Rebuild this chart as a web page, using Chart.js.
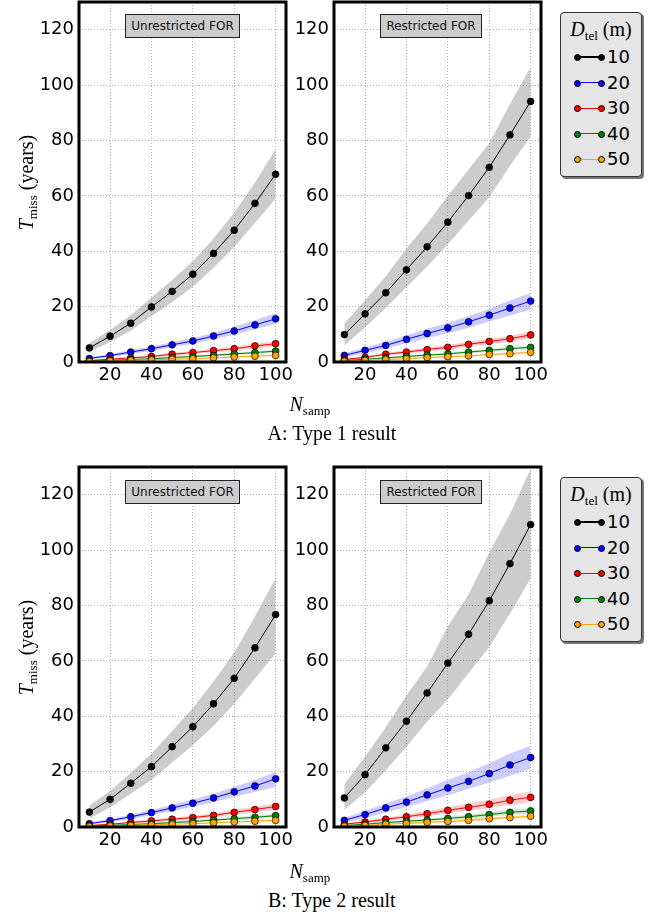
<!DOCTYPE html>
<html>
<head>
<meta charset="utf-8">
<script src="https://cdn.jsdelivr.net/npm/chart.js@4.4.0/dist/chart.umd.min.js"></script>
<style>
  body { margin: 0; background: #fff; width: 664px; height: 917px; position: relative; overflow: hidden; }
  canvas { position: absolute; }
  .tag { position: absolute; height: 24px; box-sizing: border-box; background: #cccccc; border: 1px solid #222;
         font: 12px "DejaVu Sans"; line-height: 22px; text-align: center; color: #111; }
  .leg { position: absolute; left: 560px; width: 82px; height: 165px; box-sizing: border-box; background: #e5e5e5;
         border: 1px solid #333; border-radius: 4px; box-shadow: 2px 2px 0 #777; }
  .legtitle { position: absolute; left: 0; width: 80px; top: 5px; text-align: center; font: 20px "Liberation Serif"; }
  .serif { position: absolute; font: 20px "Liberation Serif"; white-space: nowrap; }
  .sub { font-size: 13px; position: relative; top: 4px; }
</style>
</head>
<body>
<script>
// N_samp values, same for every panel
var nSamp = [10, 20, 30, 40, 50, 60, 70, 80, 90, 100];
var diameters = ["10", "20", "30", "40", "50"];
var xTicks = [20, 40, 60, 80, 100];
var yTicks = [0, 20, 40, 60, 80, 100, 120];
var colors = ["#000000", "#0000ff", "#ff0000", "#008000", "#ffa500"];
var bandColors = ["rgba(0,0,0,0.2)", "rgba(0,0,255,0.2)", "rgba(255,0,0,0.2)", "rgba(0,128,0,0.2)", "rgba(255,165,0,0.2)"];

// A: Type 1, unrestricted FOR (one row per D_tel)
var aUnresMid = [
  [5.1, 9.3, 14.0, 19.9, 25.5, 31.7, 39.2, 47.6, 57.3, 67.8],
  [1.3, 2.3, 3.6, 4.8, 6.2, 7.6, 9.4, 11.2, 13.4, 15.6],
  [0.5, 1.0, 1.5, 2.0, 2.8, 3.4, 4.1, 4.8, 5.8, 6.6],
  [0.3, 0.6, 0.9, 1.2, 1.6, 2.0, 2.4, 2.9, 3.4, 3.9],
  [0.2, 0.4, 0.6, 0.8, 1.0, 1.2, 1.5, 1.8, 2.1, 2.4]
];
var aUnresLo = [
  [3.6, 7.2, 11.3, 16.5, 21.6, 27.2, 34.0, 41.5, 50.2, 59.0],
  [0.9, 1.8, 2.9, 4.0, 5.3, 6.6, 8.2, 9.8, 11.8, 13.7],
  [0.3, 0.7, 1.2, 1.6, 2.3, 2.9, 3.5, 4.1, 5.0, 5.7],
  [0.2, 0.4, 0.7, 1.0, 1.3, 1.7, 2.0, 2.5, 2.9, 3.4],
  [0.1, 0.3, 0.5, 0.6, 0.8, 1.0, 1.3, 1.5, 1.8, 2.1]
];
var aUnresHi = [
  [6.8, 11.6, 16.9, 23.3, 29.6, 36.4, 44.6, 54.0, 64.8, 76.8],
  [1.7, 2.8, 4.3, 5.6, 7.1, 8.7, 10.6, 12.7, 15.1, 17.6],
  [0.7, 1.3, 1.8, 2.4, 3.3, 3.9, 4.7, 5.5, 6.6, 7.5],
  [0.4, 0.8, 1.1, 1.4, 1.9, 2.3, 2.8, 3.3, 3.9, 4.4],
  [0.3, 0.5, 0.7, 1.0, 1.2, 1.4, 1.7, 2.1, 2.4, 2.7]
];

// A: Type 1, restricted FOR
var aResMid = [
  [9.9, 17.4, 25.0, 33.3, 41.6, 50.5, 60.1, 70.3, 82.0, 94.1],
  [2.4, 4.2, 6.0, 8.2, 10.3, 12.3, 14.5, 16.9, 19.5, 22.0],
  [0.9, 1.7, 2.8, 3.6, 4.5, 5.3, 6.4, 7.4, 8.4, 9.8],
  [0.5, 1.0, 1.5, 2.0, 2.5, 2.9, 3.6, 4.2, 4.8, 5.3],
  [0.3, 0.6, 0.9, 1.2, 1.6, 1.9, 2.2, 2.7, 3.0, 3.5]
];
var aResLo = [
  [6.0, 12.5, 19.5, 27.0, 34.4, 42.5, 51.0, 59.5, 70.8, 81.4],
  [1.6, 3.2, 4.8, 6.8, 8.6, 10.4, 12.4, 14.6, 16.8, 18.9],
  [0.6, 1.3, 2.3, 3.0, 3.8, 4.5, 5.5, 6.4, 7.3, 8.6],
  [0.3, 0.8, 1.2, 1.7, 2.1, 2.5, 3.1, 3.7, 4.2, 4.7],
  [0.2, 0.4, 0.7, 1.0, 1.3, 1.6, 1.9, 2.3, 2.6, 3.1]
];
var aResHi = [
  [13.9, 22.3, 31.0, 41.0, 50.0, 60.0, 69.5, 79.0, 93.2, 106.5],
  [3.2, 5.2, 7.3, 9.6, 12.0, 14.2, 16.6, 19.2, 22.2, 24.9],
  [1.2, 2.1, 3.3, 4.2, 5.2, 6.1, 7.3, 8.4, 9.5, 11.0],
  [0.7, 1.2, 1.8, 2.3, 2.9, 3.3, 4.1, 4.7, 5.4, 5.9],
  [0.4, 0.8, 1.1, 1.4, 1.9, 2.2, 2.5, 3.1, 3.4, 3.9]
];

// B: Type 2, unrestricted FOR
var bUnresMid = [
  [5.4, 10.0, 15.8, 21.8, 29.0, 36.2, 44.5, 53.7, 64.7, 76.7],
  [1.2, 2.3, 3.7, 5.2, 6.9, 8.6, 10.5, 12.7, 14.8, 17.4],
  [0.5, 1.0, 1.6, 2.2, 2.8, 3.4, 4.2, 5.3, 6.3, 7.4],
  [0.3, 0.6, 0.9, 1.2, 1.6, 2.0, 2.5, 3.0, 3.5, 4.1],
  [0.2, 0.4, 0.6, 0.8, 1.0, 1.2, 1.5, 1.8, 2.1, 2.4]
];
var bUnresLo = [
  [3.0, 7.0, 12.0, 17.0, 23.3, 29.5, 36.5, 44.5, 53.5, 62.7],
  [0.8, 1.7, 2.9, 4.3, 5.8, 7.3, 9.0, 10.9, 12.6, 14.5],
  [0.3, 0.7, 1.2, 1.7, 2.2, 2.7, 3.4, 4.4, 5.3, 6.2],
  [0.2, 0.4, 0.7, 0.9, 1.3, 1.6, 2.1, 2.5, 2.9, 3.4],
  [0.1, 0.3, 0.4, 0.6, 0.8, 1.0, 1.2, 1.5, 1.7, 2.0]
];
var bUnresHi = [
  [7.8, 13.0, 19.5, 26.5, 34.7, 43.0, 52.5, 63.0, 76.0, 89.9],
  [1.6, 2.9, 4.5, 6.1, 8.0, 9.9, 12.0, 14.5, 17.0, 19.9],
  [0.7, 1.3, 2.0, 2.7, 3.4, 4.1, 5.0, 6.2, 7.3, 8.6],
  [0.4, 0.8, 1.1, 1.5, 1.9, 2.4, 2.9, 3.5, 4.1, 4.8],
  [0.3, 0.5, 0.8, 1.0, 1.2, 1.4, 1.8, 2.1, 2.5, 2.8]
];

// B: Type 2, restricted FOR
var bResMid = [
  [10.5, 18.9, 28.6, 38.2, 48.4, 59.2, 69.6, 81.7, 95.1, 109.2],
  [2.4, 4.5, 6.9, 9.0, 11.6, 14.1, 16.5, 19.3, 22.4, 25.1],
  [1.0, 1.8, 2.8, 3.7, 4.8, 6.0, 7.1, 8.2, 9.7, 10.7],
  [0.5, 1.0, 1.6, 2.1, 2.5, 3.1, 3.7, 4.5, 5.3, 5.8],
  [0.3, 0.6, 1.0, 1.3, 1.7, 2.0, 2.4, 3.0, 3.4, 3.9]
];
var bResLo = [
  [6.2, 12.5, 20.5, 29.0, 38.0, 46.0, 55.5, 65.0, 77.0, 89.7],
  [1.5, 3.2, 5.3, 7.2, 9.3, 11.5, 13.8, 16.0, 18.5, 20.9],
  [0.6, 1.3, 2.2, 3.0, 3.9, 4.9, 5.9, 6.8, 8.0, 8.9],
  [0.3, 0.7, 1.2, 1.6, 2.0, 2.5, 3.0, 3.7, 4.4, 4.8],
  [0.2, 0.4, 0.7, 1.0, 1.3, 1.6, 1.9, 2.5, 2.8, 3.2]
];
var bResHi = [
  [15.4, 25.5, 36.0, 47.5, 58.0, 72.5, 84.0, 99.0, 113.0, 129.4],
  [3.3, 5.8, 8.5, 11.0, 14.0, 17.0, 19.8, 23.0, 26.5, 29.3],
  [1.4, 2.3, 3.4, 4.5, 5.8, 7.2, 8.5, 9.8, 11.6, 12.8],
  [0.7, 1.3, 2.0, 2.6, 3.0, 3.7, 4.4, 5.3, 6.2, 6.9],
  [0.4, 0.8, 1.3, 1.6, 2.1, 2.4, 2.9, 3.5, 4.0, 4.6]
];

// thick black box round each plot area (drawn over the lines like mpl spines)
var framePlugin = {
  id: 'frame',
  afterDatasetsDraw: function (chart) {
    var a = chart.chartArea, ctx = chart.ctx;
    ctx.save();
    ctx.lineWidth = 3;
    ctx.strokeStyle = '#000';
    ctx.strokeRect(a.left, a.top, a.right - a.left, a.bottom - a.top);
    ctx.restore();
  }
};

function pts(arr) {
  return arr.map(function (v, i) { return { x: nSamp[i], y: v }; });
}

function makePanel(plotLeft, plotTop, axisW, mid, lo, hi) {
  var padTop = 20, plotW = 207, plotH = 360, xAxisH = 30, padRight = 14, padBottom = 2;
  var cv = document.createElement('canvas');
  cv.width = axisW + plotW + padRight;
  cv.height = padTop + plotH + xAxisH + padBottom;
  cv.style.left = (plotLeft - axisW) + 'px';
  cv.style.top = (plotTop - padTop) + 'px';
  document.body.appendChild(cv);

  var datasets = [];
  for (var i = 0; i < mid.length; i++) {
    // band = lower edge + upper edge filled down to it
    datasets.push({ data: pts(lo[i]), borderWidth: 0, pointRadius: 0, fill: false, order: 100 - i });
    datasets.push({ data: pts(hi[i]), borderWidth: 0, backgroundColor: bandColors[i], pointRadius: 0, fill: '-1', order: 100 - i });
    datasets.push({
      data: pts(mid[i]), borderColor: colors[i], borderWidth: 1, fill: false,
      pointRadius: 3.4, pointBackgroundColor: colors[i], pointBorderColor: '#000', pointBorderWidth: 0.7,
      order: 10 - i
    });
  }

  var tickFont = { family: 'DejaVu Sans', size: 18 };
  new Chart(cv, {
    type: 'line',
    data: { datasets: datasets },
    plugins: [framePlugin],
    options: {
      responsive: false,
      animation: false,
      devicePixelRatio: 1,
      layout: { padding: { top: padTop, right: padRight, bottom: padBottom, left: 0 } },
      plugins: { legend: { display: false }, tooltip: { enabled: false } },
      scales: {
        x: {
          type: 'linear', min: 5, max: 105,
          afterBuildTicks: function (s) { s.ticks = xTicks.map(function (v) { return { value: v }; }); },
          afterFit: function (s) { s.height = xAxisH; },
          grid: { color: '#b4b4b4', lineWidth: 1, drawTicks: false, borderDash: [1, 2] },
          border: { display: false, dash: [1, 2] },
          ticks: { font: tickFont, color: '#000', padding: 3, maxRotation: 0, autoSkip: false }
        },
        y: {
          type: 'linear', min: 0, max: 130,
          afterBuildTicks: function (s) { s.ticks = yTicks.map(function (v) { return { value: v }; }); },
          afterFit: function (s) { s.width = axisW; },
          grid: { color: '#b4b4b4', lineWidth: 1, drawTicks: false, borderDash: [1, 2] },
          border: { display: false, dash: [1, 2] },
          ticks: { font: tickFont, color: '#000', padding: 5, autoSkip: false }
        }
      }
    }
  });
}

function addTag(text, left, top, width) {
  var d = document.createElement('div');
  d.className = 'tag';
  d.textContent = text;
  d.style.left = left + 'px';
  d.style.top = top + 'px';
  d.style.width = width + 'px';
  document.body.appendChild(d);
}

function addLegend(top) {
  var box = document.createElement('div');
  box.className = 'leg';
  box.style.top = top + 'px';
  box.innerHTML = '<div class="legtitle"><i>D</i><span class="sub">tel</span> (m)</div>';
  for (var i = 0; i < diameters.length; i++) {
    var y = 44 + i * 25.6;
    var c = colors[i];
    box.innerHTML +=
      '<div style="position:absolute;left:16px;top:' + (y - 0.6) + 'px;width:24px;height:1.2px;background:' + c + '"></div>' +
      '<div style="position:absolute;left:13px;top:' + (y - 3) + 'px;width:5px;height:5px;border-radius:50%;background:' + c + ';border:0.5px solid #000"></div>' +
      '<div style="position:absolute;left:37px;top:' + (y - 3) + 'px;width:5px;height:5px;border-radius:50%;background:' + c + ';border:0.5px solid #000"></div>' +
      '<div style="position:absolute;left:46px;top:' + (y - 11) + 'px;font:18px \'DejaVu Sans\';line-height:22px">' + diameters[i] + '</div>';
  }
  document.body.appendChild(box);
}

function addText(html, cx, cy, rotate) {
  var d = document.createElement('div');
  d.className = 'serif';
  d.innerHTML = html;
  document.body.appendChild(d);
  var w = d.offsetWidth, h = d.offsetHeight;
  d.style.left = (cx - w / 2) + 'px';
  d.style.top = (cy - h / 2) + 'px';
  if (rotate) d.style.transform = 'rotate(-90deg)';
}

// row A
makePanel(79, 2, 79, aUnresMid, aUnresLo, aUnresHi);
makePanel(334, 2, 45, aResMid, aResLo, aResHi);
// row B
makePanel(79, 467, 79, bUnresMid, bUnresLo, bUnresHi);
makePanel(334, 467, 45, bResMid, bResLo, bResHi);

addTag('Unrestricted FOR', 125, 14, 115);
addTag('Restricted FOR', 380, 14, 102);
addTag('Unrestricted FOR', 125, 480, 115);
addTag('Restricted FOR', 380, 480, 102);

addLegend(12);
addLegend(477);

var yTitle = '<i>T</i><span class="sub">miss</span> (years)';
var xTitle = '<i>N</i><span class="sub">samp</span>';
addText(yTitle, 27, 182, true);
addText(yTitle, 27, 647, true);
addText(xTitle, 310, 404, false);
addText(xTitle, 310, 871, false);
addText('A: Type 1 result', 332, 433, false);
addText('B: Type 2 result', 332, 900, false);
</script>
</body>
</html>
